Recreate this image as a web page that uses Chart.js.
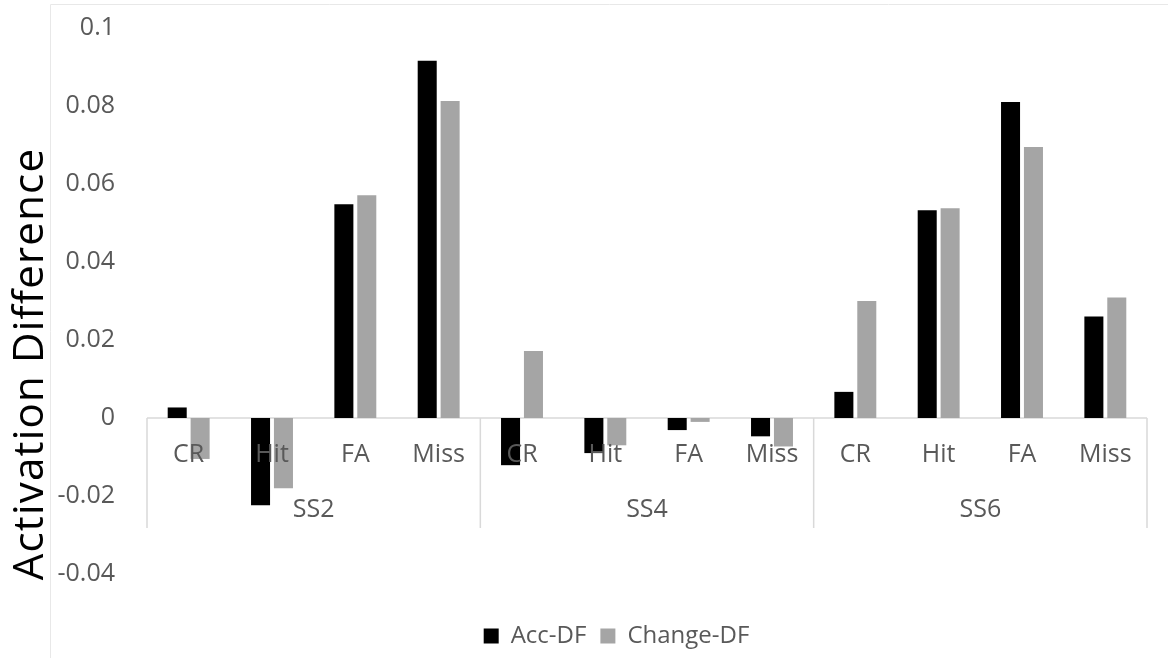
<!DOCTYPE html>
<html>
<head>
<meta charset="utf-8">
<script src="https://cdn.jsdelivr.net/npm/chart.js@4/dist/chart.umd.min.js"></script>
<style>
  html, body { margin: 0; padding: 0; background: #fff; }
  #wrap { width: 1168px; height: 658px; position: relative; }
</style>
</head>
<body>
<div id="wrap"><canvas id="chart"></canvas></div>
<script>
// DATA
const groups = ['SS2', 'SS4', 'SS6'];
const conditions = ['CR', 'Hit', 'FA', 'Miss'];
const accDF = [0.0027, -0.0224, 0.0548, 0.0916,
               -0.0121, -0.0090, -0.0031, -0.0047,
               0.0067, 0.0533, 0.0810, 0.0260];
const changeDF = [-0.0105, -0.0180, 0.0571, 0.0813,
                  0.0172, -0.0070, -0.0010, -0.0073,
                  0.0300, 0.0538, 0.0695, 0.0309];
const yTicks = [-0.04, -0.02, 0, 0.02, 0.04, 0.06, 0.08, 0.1];

const labels = [];
groups.forEach(g => conditions.forEach(c => labels.push(c)));

const FONT = '"Open Sans", "Liberation Sans", sans-serif';
const TEXT = '#595959';
const LINE = '#d9d9d9';

// group labels, separators, y title, outer frame
const groupAxis = {
  id: 'groupAxis',
  afterLayout(chart) {
    // legend sits a bit right of centre in the original
    chart.legend.left += 43;
    chart.legend.right += 43;
  },
  beforeDatasetsDraw(chart) {
    const ctx = chart.ctx;
    const y0 = chart.scales.y.getPixelForValue(0);
    ctx.save();
    ctx.strokeStyle = LINE;
    ctx.lineWidth = 1.5;
    ctx.beginPath();
    ctx.moveTo(chart.chartArea.left, y0);
    ctx.lineTo(chart.chartArea.right, y0);
    ctx.stroke();
    ctx.restore();
  },
  afterDraw(chart) {
    const ctx = chart.ctx;
    const x = chart.scales.x, y = chart.scales.y;
    const y0 = y.getPixelForValue(0);
    const step = x.getPixelForValue(1) - x.getPixelForValue(0);
    ctx.save();

    // separators
    ctx.strokeStyle = LINE;
    ctx.lineWidth = 1.5;
    for (let i = 0; i <= groups.length; i++) {
      const px = x.getPixelForValue(i * conditions.length) - step / 2;
      ctx.beginPath();
      ctx.moveTo(px, y0);
      ctx.lineTo(px, y0 + 110);
      ctx.stroke();
    }

    // group names
    ctx.fillStyle = TEXT;
    ctx.font = '25px ' + FONT;
    ctx.textAlign = 'center';
    ctx.textBaseline = 'middle';
    groups.forEach((g, i) => {
      const a = x.getPixelForValue(i * conditions.length) - step / 2;
      const b = x.getPixelForValue((i + 1) * conditions.length) - step / 2;
      ctx.fillText(g, (a + b) / 2, y0 + 92);
    });

    // y title
    ctx.fillStyle = '#000';
    ctx.font = '42px ' + FONT;
    ctx.textBaseline = 'alphabetic';
    ctx.letterSpacing = '1.2px';
    ctx.translate(43, 364);
    ctx.rotate(-Math.PI / 2);
    ctx.fillText('Activation Difference', 0, 0);
    ctx.restore();

    // faint outer frame
    ctx.save();
    ctx.strokeStyle = '#e8e8e8';
    ctx.lineWidth = 1;
    ctx.beginPath();
    ctx.moveTo(50.5, 658);
    ctx.lineTo(50.5, 4.5);
    ctx.lineTo(1168, 4.5);
    ctx.stroke();
    ctx.restore();
  }
};

const chart = new Chart(document.getElementById('chart'), {
  type: 'bar',
  data: {
    labels: labels,
    datasets: [{
      label: 'Acc-DF',
      data: accDF,
      backgroundColor: '#000000',
      categoryPercentage: 0.55,
      barPercentage: 0.83
    }, {
      label: 'Change-DF',
      data: changeDF,
      backgroundColor: '#a5a5a5',
      categoryPercentage: 0.55,
      barPercentage: 0.83
    }]
  },
  options: {
    responsive: true,
    maintainAspectRatio: false,
    animation: false,
    layout: { padding: { top: 28, right: 21, bottom: 0, left: 0 } },
    plugins: {
      tooltip: { enabled: false },
      legend: {
        position: 'bottom',
        labels: {
          color: TEXT,
          font: { family: FONT, size: 24 },
          boxWidth: 15,
          boxHeight: 15,
          padding: 14
        }
      }
    },
    scales: {
      x: {
        position: { y: 0 },
        grid: { display: false },
        border: { display: false },
        ticks: {
          z: 1,
          color: TEXT,
          font: { family: FONT, size: 25 },
          padding: 14,
          maxRotation: 0,
          autoSkip: false
        }
      },
      spacer: {
        type: 'category',
        position: 'bottom',
        grid: { display: false },
        border: { display: false },
        ticks: { display: false },
        afterFit(scale) { scale.height = 36; }
      },
      y: {
        min: -0.04,
        max: 0.1,
        grid: { display: false },
        border: { display: false },
        afterBuildTicks(scale) { scale.ticks = yTicks.map(v => ({ value: v })); },
        ticks: {
          color: TEXT,
          font: { family: FONT, size: 25 },
          padding: 24,
          callback: v => String(parseFloat(v.toFixed(2)))
        },
        afterFit(scale) {
          scale.width = 147;
          scale.paddingTop = 0;
          scale.paddingBottom = 0;
        }
      }
    }
  },
  plugins: [groupAxis]
});
</script>
</body>
</html>
